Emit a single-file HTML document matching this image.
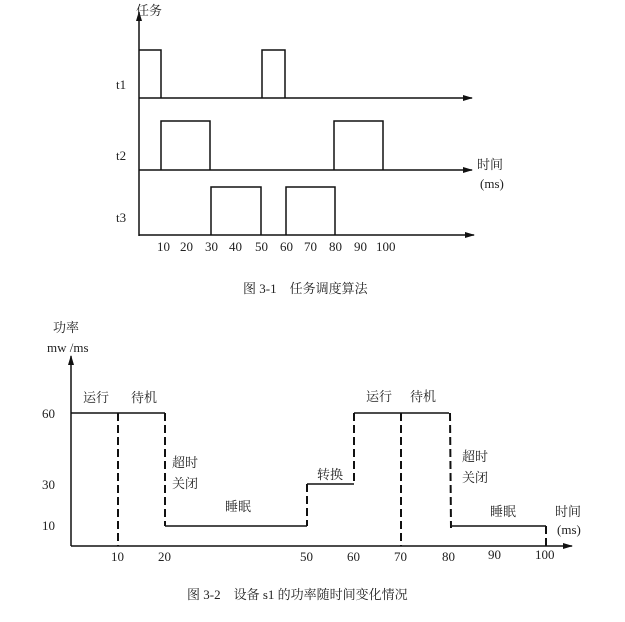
<!DOCTYPE html>
<html><head><meta charset="utf-8"><style>
body{margin:0;background:#fff}
svg text{font-family:"Liberation Serif","Noto Serif CJK SC",serif;fill:#222}
</style></head><body>
<svg width="625" height="617" viewBox="0 0 625 617" xmlns="http://www.w3.org/2000/svg">
<defs><marker id="a" markerWidth="10" markerHeight="6" refX="9" refY="3" orient="auto" markerUnits="userSpaceOnUse"><path d="M0,0 L10,3 L0,6z" fill="#111"/></marker></defs>
<g stroke="#111" stroke-width="1.5" fill="none">
<line x1="139" y1="236" x2="139" y2="12" marker-end="url(#a)"/>
<line x1="139" y1="98" x2="472" y2="98" marker-end="url(#a)"/>
<line x1="139" y1="170" x2="472" y2="170" marker-end="url(#a)"/>
<line x1="139" y1="235" x2="474" y2="235" marker-end="url(#a)"/>
<path d="M139,50H161V98"/><path d="M262,98V50H285V98"/>
<path d="M161,170V121H210V170"/><path d="M334,170V121H383V170"/>
<path d="M211,235V187H261V235"/><path d="M286,235V187H335V235"/>
</g>
<g font-size="13">
<text x="136" y="15">任务</text>
<text x="116" y="89">t1</text><text x="116" y="160">t2</text><text x="116" y="222">t3</text>
<text x="477" y="169">时间</text><text x="480" y="188">(ms)</text>
<text x="157" y="251">10</text><text x="180" y="251">20</text><text x="205" y="251">30</text><text x="229" y="251">40</text><text x="255" y="251">50</text><text x="280" y="251">60</text><text x="304" y="251">70</text><text x="329" y="251">80</text><text x="354" y="251">90</text><text x="376" y="251">100</text>
<text x="243" y="293">图 3-1　任务调度算法</text>
</g>
<g stroke="#111" stroke-width="1.5" fill="none">
<line x1="71" y1="546" x2="71" y2="356" marker-end="url(#a)"/>
<line x1="71" y1="546" x2="572" y2="546" marker-end="url(#a)"/>
<path d="M71,413H165"/><path d="M165,526H307"/><path d="M307,484H354"/><path d="M354,413H449"/><path d="M452,526H546"/>
<g stroke-dasharray="8,4" stroke-width="2">
<line x1="118" y1="413" x2="118" y2="546"/><line x1="165" y1="413" x2="165" y2="526"/>
<line x1="307" y1="484" x2="307" y2="526"/><line x1="354" y1="413" x2="354" y2="484"/>
<line x1="401" y1="413" x2="401" y2="546"/><line x1="450" y1="413" x2="451" y2="528"/>
<line x1="546" y1="526" x2="546" y2="546"/>
</g></g>
<g font-size="13">
<text x="53" y="332">功率</text><text x="47" y="352">mw /ms</text>
<text x="42" y="418">60</text><text x="42" y="489">30</text><text x="42" y="530">10</text>
<text x="83" y="402">运行</text><text x="131" y="402">待机</text>
<text x="172" y="467">超时</text><text x="172" y="488">关闭</text>
<text x="225" y="511">睡眠</text><text x="317" y="479">转换</text>
<text x="366" y="401">运行</text><text x="410" y="401">待机</text>
<text x="462" y="461">超时</text><text x="462" y="482">关闭</text>
<text x="490" y="516">睡眠</text><text x="555" y="516">时间</text><text x="557" y="534">(ms)</text>
<text x="111" y="561">10</text><text x="158" y="561">20</text><text x="300" y="561">50</text><text x="347" y="561">60</text><text x="394" y="561">70</text><text x="442" y="561">80</text><text x="488" y="559">90</text><text x="535" y="559">100</text>
<text x="187" y="599">图 3-2　设备 s1 的功率随时间变化情况</text>
</g>
</svg>
</body></html>
